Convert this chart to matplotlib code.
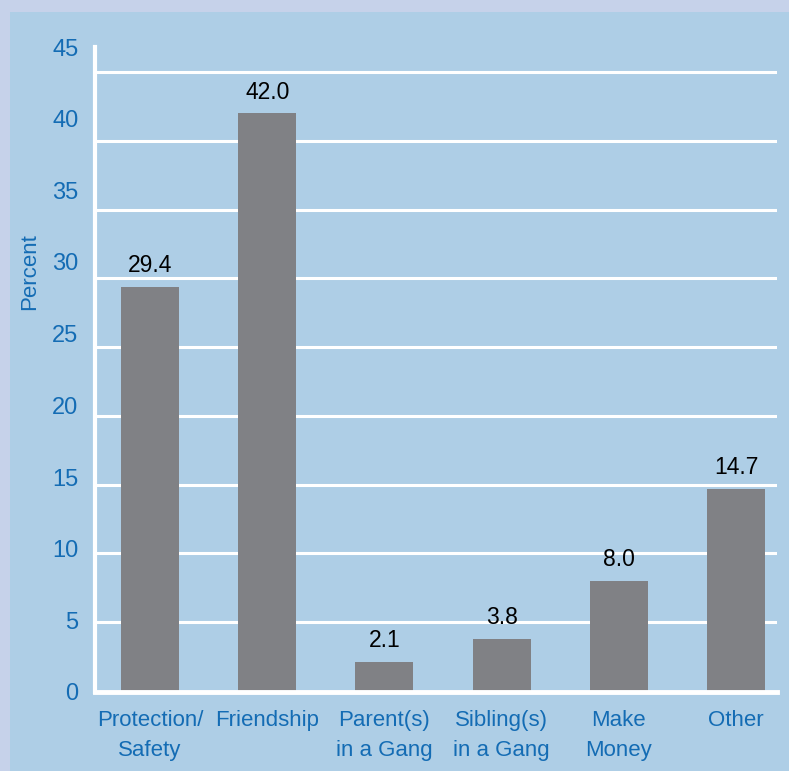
import matplotlib
matplotlib.use("Agg")
import matplotlib.pyplot as plt
from matplotlib.patches import Rectangle

# reasons for joining a gang
categories = ["Protection/\nSafety", "Friendship", "Parent(s)\nin a Gang",
              "Sibling(s)\nin a Gang", "Make\nMoney", "Other"]
percent = [29.4, 42.0, 2.1, 3.8, 8.0, 14.7]
ytick_values = [0, 5, 10, 15, 20, 25, 30, 35, 40, 45]

outer_bg = "#c6d2ea"
panel_bg = "#aecee6"
bar_col = "#808185"
blue = "#146cb4"

plt.rcParams['font.family'] = ['Liberation Sans', 'DejaVu Sans']

fig = plt.figure(figsize=(7.89, 7.71), dpi=100, facecolor=outer_bg)
fig.patches.append(Rectangle((10 / 789, 0), 1, 1 - 12 / 771, transform=fig.transFigure,
                             facecolor=panel_bg, edgecolor="none", zorder=-10))

ax = fig.add_axes([95 / 789, (771 - 692) / 771, (777 - 95) / 789, (692 - 47) / 771])
ax.set_facecolor("none")
ax.set_zorder(5)

x = list(range(len(categories)))
ax.bar(x, percent, width=0.495, color=bar_col, zorder=3)
for xi, v in zip(x, percent):
    ax.annotate(f"{v:.1f}", (xi, v), xytext=(0, 7), textcoords="offset points",
                ha="center", va="bottom", fontsize=16.5, color="black")

# white grid lines
for v in ytick_values[1:]:
    ax.axhline(v, color="white", lw=2.2, zorder=1)

ax.set_xlim(-0.47, 5.35)
ax.set_ylim(0, 46.67)

# the tick labels sit a bit off the grid lines in the original
ax.set_yticks([v * 1.042 - 0.07 for v in ytick_values])
ax.set_yticklabels([str(v) for v in ytick_values])
ax.tick_params(axis="y", length=0, pad=12, labelsize=17, labelcolor=blue)

ax.set_xticks(x)
ax.set_xticklabels(categories, linespacing=1.55)
ax.tick_params(axis="x", length=0, pad=13, labelsize=16, labelcolor=blue)

for s in ["top", "right"]:
    ax.spines[s].set_visible(False)
ax.spines["left"].set_color("white")
ax.spines["left"].set_linewidth(3)
ax.spines["bottom"].set_color("white")
ax.spines["bottom"].set_linewidth(3.5)
ax.spines["left"].set_zorder(4)
ax.spines["bottom"].set_zorder(4)

fig.text(30 / 789, (771 - 272) / 771, "Percent", rotation=90, ha="center", va="center",
         fontsize=16, color=blue)

fig.savefig("out.png", dpi=100, facecolor=outer_bg)
